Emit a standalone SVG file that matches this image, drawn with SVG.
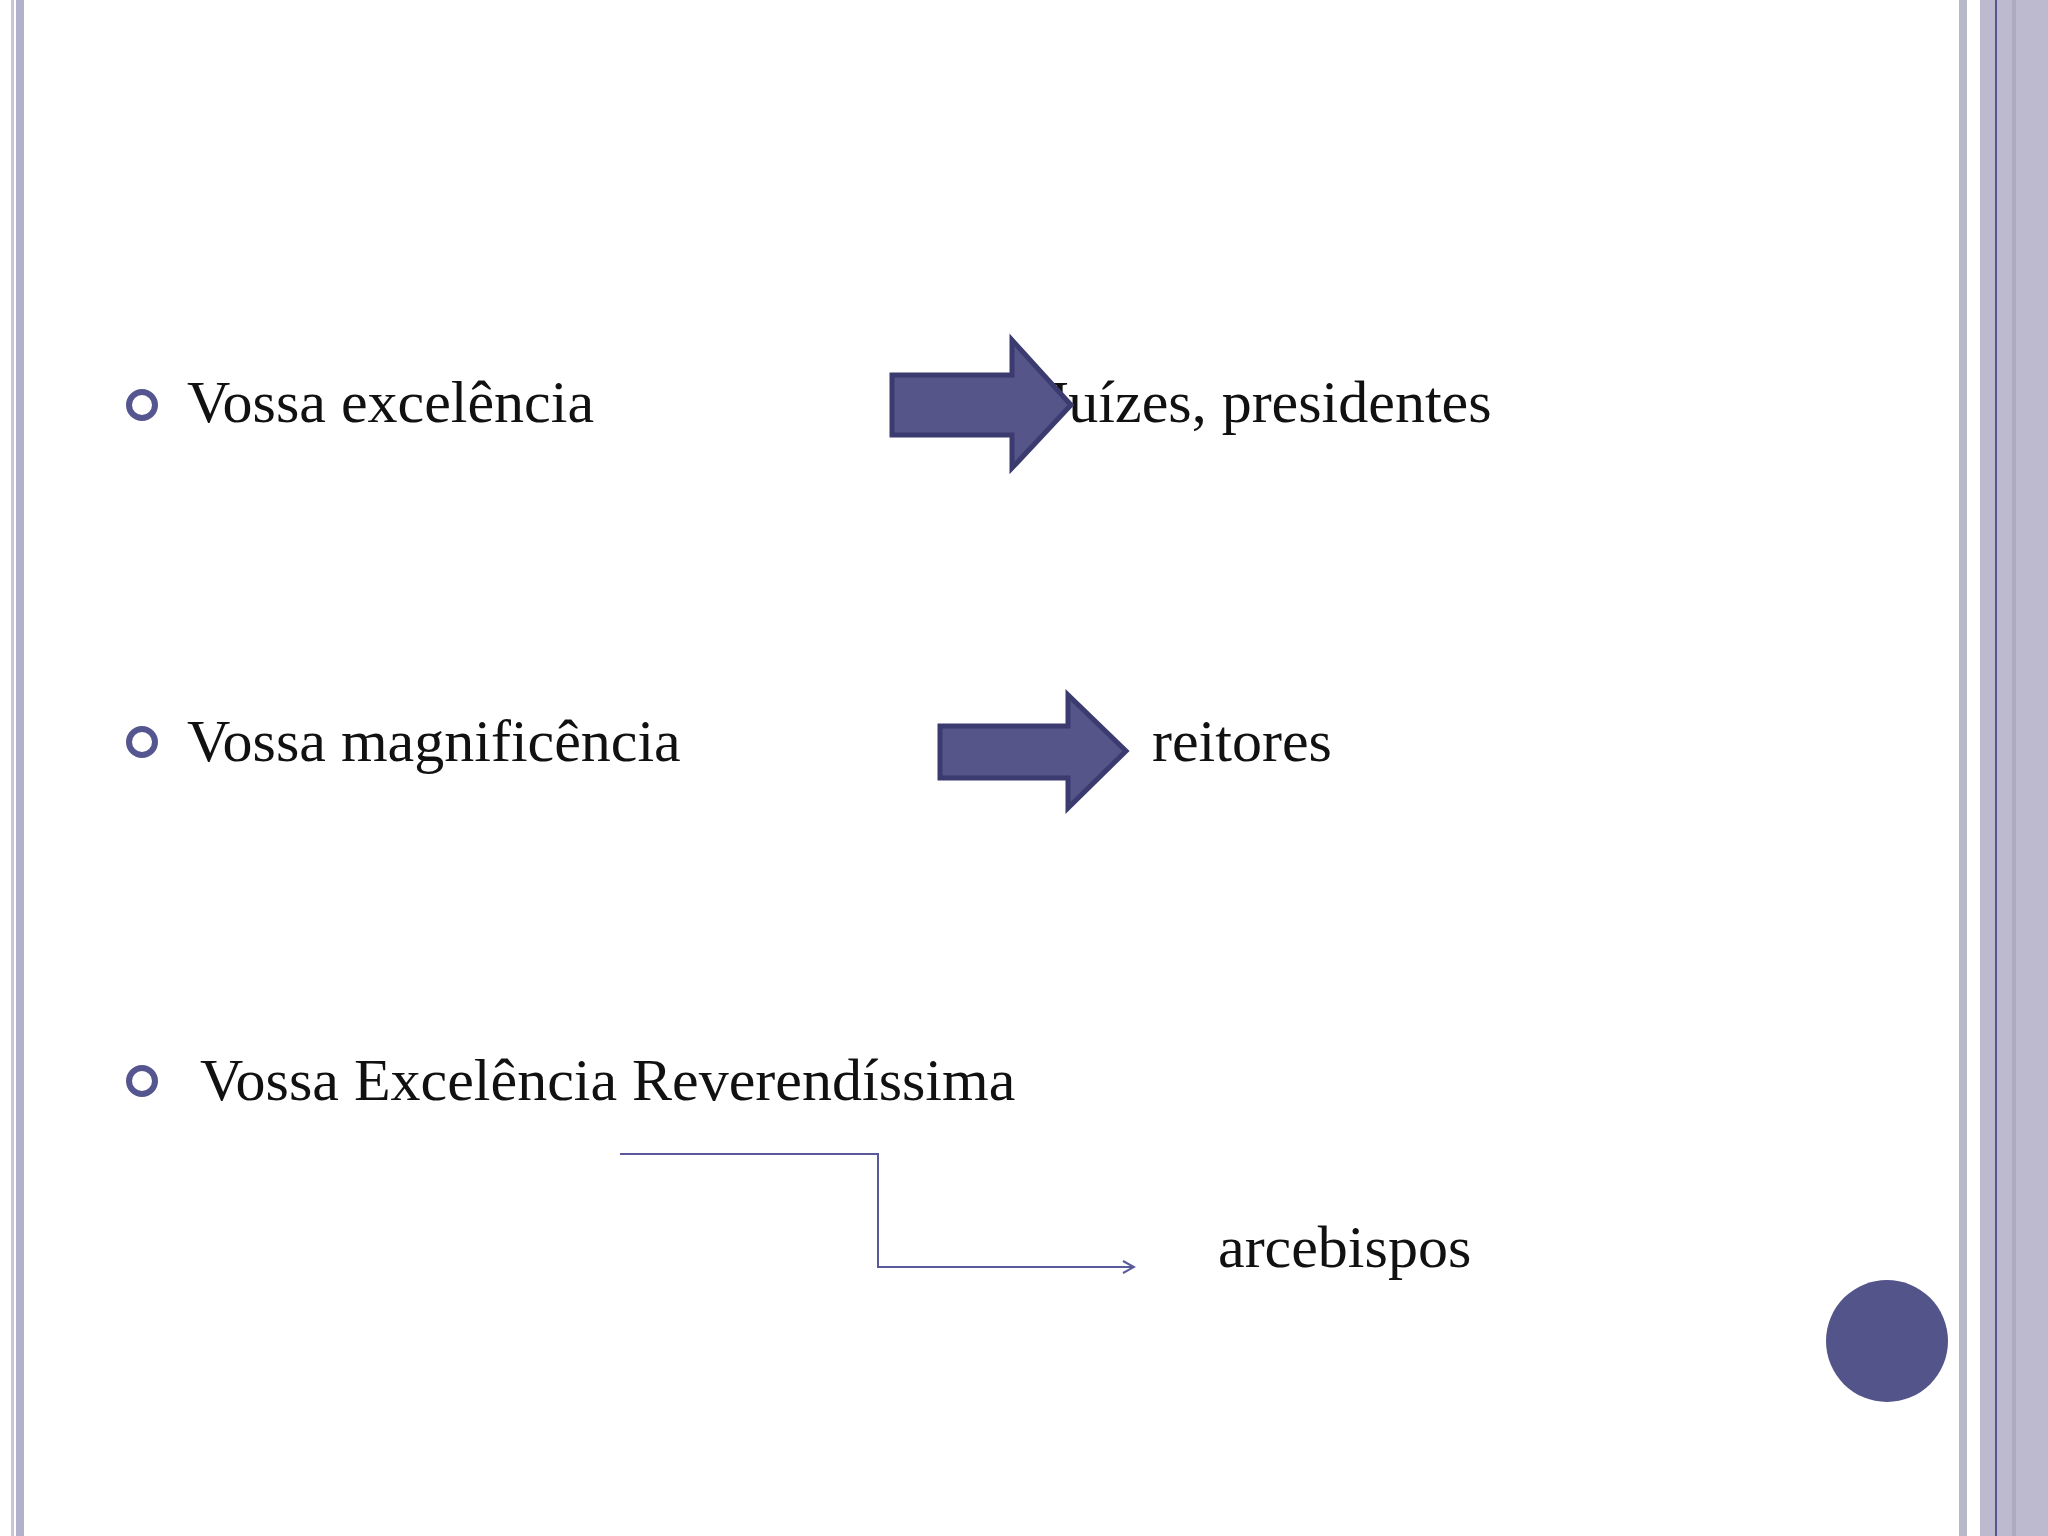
<svg xmlns="http://www.w3.org/2000/svg" width="2048" height="1536" viewBox="0 0 2048 1536">
<defs>
<style>
.t{font-family:"Liberation Serif","Times New Roman",serif;font-size:60px;fill:#111}
.b{fill:none;stroke:#55558f;stroke-width:6}
.a{fill:#55558a;stroke:#3b3b70;stroke-width:5}
</style>
<marker id="m" markerWidth="14" markerHeight="14" refX="12" refY="7" orient="auto" markerUnits="userSpaceOnUse">
<path d="M1,1 L12,7 L1,13" fill="none" stroke="#5a5a9a" stroke-width="2"/>
</marker>
</defs>
<rect width="2048" height="1536" fill="#fff"/>
<rect x="11" y="0" width="3" height="1536" fill="#c8c6dc"/>
<rect x="16" y="0" width="8" height="1536" fill="#b3b0cc"/>
<rect x="1959" y="0" width="8" height="1536" fill="#b9b8c9"/>
<rect x="1980" y="0" width="68" height="1536" fill="#bdbad0"/>
<rect x="1995" y="0" width="2" height="1536" fill="#55558f"/>
<rect x="2012" y="0" width="4" height="1536" fill="#aeabc0"/>
<g id="row1">
<circle class="b" cx="142" cy="405" r="13"/>
<text class="t" x="187" y="422">Vossa excelência</text>
<text class="t" x="1045" y="422">Juízes, presidentes</text>
<path class="a" d="M892,375 H1012 V340 L1071,405 L1012,468 V435 H892 Z"/>
</g>
<g id="row2">
<circle class="b" cx="142" cy="742" r="13"/>
<text class="t" x="187" y="761">Vossa magnificência</text>
<path class="a" d="M940,726 H1068 V695 L1126,751 L1068,808 V778 H940 Z"/>
<text class="t" x="1152" y="761">reitores</text>
</g>
<g id="row3">
<circle class="b" cx="142" cy="1081" r="13"/>
<text class="t" x="200" y="1100">Vossa Excelência Reverendíssima</text>
<text class="t" x="1218" y="1267">arcebispos</text>
</g>
<g id="connectors">
<path d="M620,1154 H878 V1267 H1134" fill="none" stroke="#5a5a9a" stroke-width="2" marker-end="url(#m)"/>
</g>
<circle id="dot" cx="1887" cy="1341" r="61" fill="#53548a"/>
</svg>
